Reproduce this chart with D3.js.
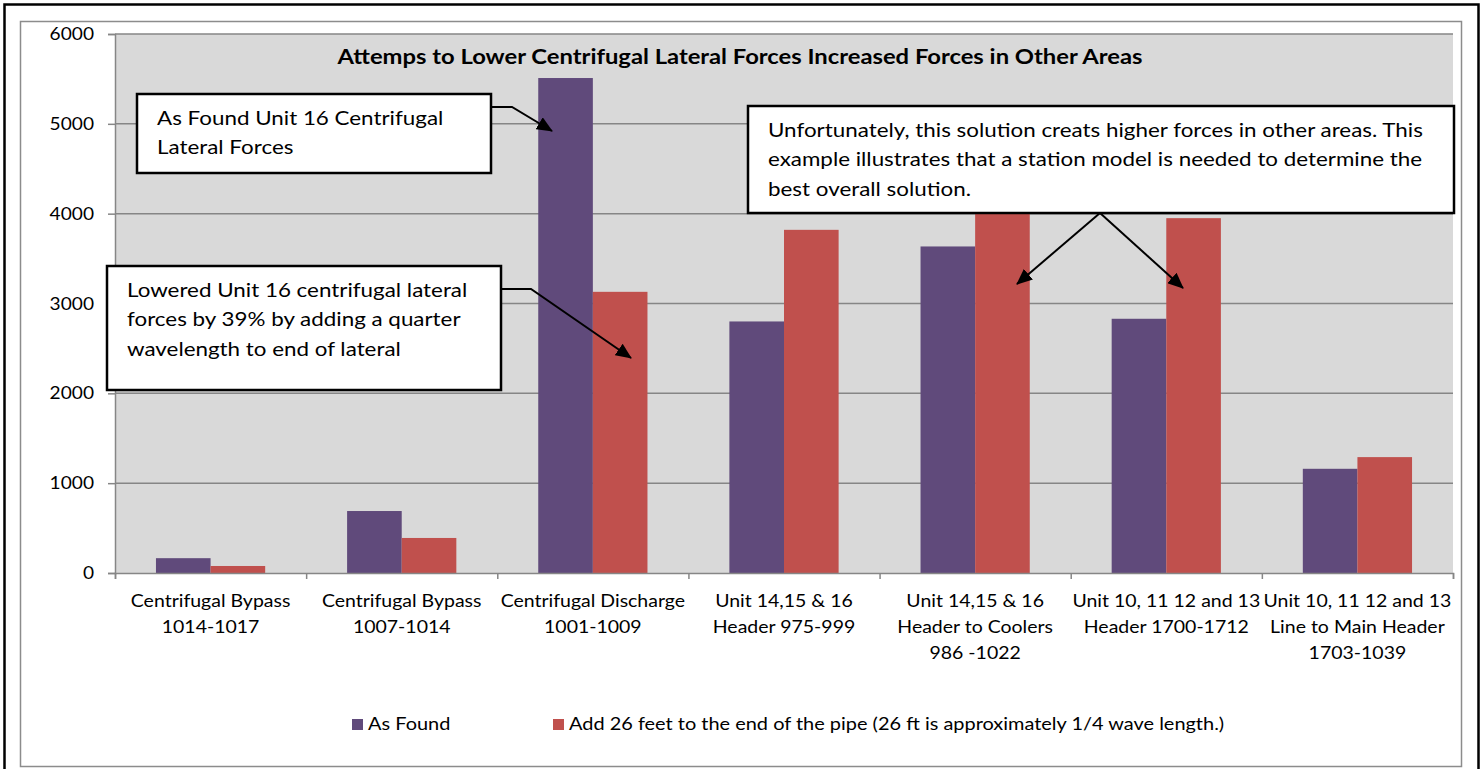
<!DOCTYPE html>
<html>
<head>
<meta charset="utf-8">
<script src="https://cdn.jsdelivr.net/npm/d3@7"></script>
<style>
  body { margin: 0; background: #fff; }
  svg { display: block; font-family: Lato, "Open Sans", sans-serif; }
</style>
</head>
<body>
<div id="chart"></div>
<script>
// chart data
const categories = [
  ["Centrifugal Bypass", "1014-1017"],
  ["Centrifugal Bypass", "1007-1014"],
  ["Centrifugal Discharge", "1001-1009"],
  ["Unit 14,15 & 16", "Header 975-999"],
  ["Unit 14,15 & 16", "Header to Coolers", "986 -1022"],
  ["Unit 10, 11 12 and 13", "Header 1700-1712"],
  ["Unit 10, 11 12 and 13", "Line to Main Header", "1703-1039"]
];
const seriesNames = ["As Found", "Add 26 feet to the end of the pipe (26 ft is approximately 1/4 wave length.)"];
const asFound = [165, 690, 5510, 2800, 3635, 2830, 1160];
const added26ft = [78, 390, 3130, 3820, 4020, 3950, 1290];
const yTicks = [0, 1000, 2000, 3000, 4000, 5000, 6000];
const colors = ["#604A7B", "#C0504D"];

const title = "Attemps to Lower Centrifugal Lateral Forces Increased Forces in Other Areas";

// call-out boxes and their arrows
const notes = [
  { x: 137, y: 94, w: 354, h: 79,
    lines: ["As Found Unit 16 Centrifugal", "Lateral Forces"],
    arrows: [[[491, 107], [512, 107], [552, 131]]] },
  { x: 107, y: 266, w: 394, h: 124,
    lines: ["Lowered Unit 16 centrifugal lateral", "forces by 39% by adding a quarter", "wavelength to end of lateral"],
    arrows: [[[501, 289], [531, 289], [631, 358]]] },
  { x: 748, y: 106, w: 706, h: 107,
    lines: ["Unfortunately, this solution creats higher forces in other areas. This",
            "example illustrates that a station model is needed to determine the",
            "best overall solution."],
    arrows: [[[1100, 213], [1017, 284]], [[1100, 213], [1183, 288]]] }
];

const width = 1483, height = 769;
const plot = { left: 115, right: 1453, top: 34, bottom: 573 };
// the original text is set a bit wide, so labels get stretched sideways
const sx = 1.16;
const stretch = (x, y) => `translate(${x},${y}) scale(${sx},1)`;

const svg = d3.select("#chart").append("svg")
  .attr("width", width)
  .attr("height", height);

svg.append("defs").append("marker")
  .attr("id", "arrow")
  .attr("markerUnits", "userSpaceOnUse")
  .attr("markerWidth", 16).attr("markerHeight", 14)
  .attr("refX", 15).attr("refY", 7)
  .attr("orient", "auto")
  .append("path")
  .attr("d", "M0,0 L16,7 L0,14 Z")
  .attr("fill", "#000");

// outer frames
svg.append("rect")
  .attr("x", 4.5).attr("y", 4.5)
  .attr("width", 1474).attr("height", 780)
  .attr("fill", "none").attr("stroke", "#000").attr("stroke-width", 2.5);
svg.append("rect")
  .attr("x", 20.5).attr("y", 21.5)
  .attr("width", 1441).attr("height", 745)
  .attr("fill", "#fff").attr("stroke", "#8c8c8c").attr("stroke-width", 1.5);

// scales
const x0 = d3.scaleBand()
  .domain(d3.range(categories.length))
  .range([plot.left, plot.right])
  .padding(0);
const x1 = d3.scaleBand()
  .domain([0, 1])
  .range([0, x0.bandwidth()])
  .paddingInner(0)
  .paddingOuter(0.75);
const y = d3.scaleLinear()
  .domain([0, 6000])
  .range([plot.bottom, plot.top]);

// plot background
svg.append("rect")
  .attr("x", plot.left).attr("y", plot.top)
  .attr("width", plot.right - plot.left).attr("height", plot.bottom - plot.top)
  .attr("fill", "#D9D9D9");

// grid lines
svg.append("g")
  .selectAll("line")
  .data(yTicks.filter(d => d > 0))
  .join("line")
  .attr("x1", plot.left).attr("x2", plot.right)
  .attr("y1", d => y(d)).attr("y2", d => y(d))
  .attr("stroke", "#868686").attr("stroke-width", 1.5);

// bars
const rows = categories.map((c, i) => [asFound[i], added26ft[i]]);
svg.append("g")
  .selectAll("g")
  .data(rows)
  .join("g")
  .attr("transform", (d, i) => `translate(${x0(i)},0)`)
  .selectAll("rect")
  .data(d => d.map((v, s) => ({ v, s })))
  .join("rect")
  .attr("x", d => x1(d.s))
  .attr("width", x1.bandwidth())
  .attr("y", d => y(d.v))
  .attr("height", d => y(0) - y(d.v))
  .attr("fill", d => colors[d.s]);

// y axis
const yAxis = svg.append("g")
  .attr("transform", `translate(${plot.left},0)`)
  .call(d3.axisLeft(y).tickValues(yTicks).tickSize(7).tickFormat(""));
yAxis.select(".domain").attr("stroke", "#868686").attr("stroke-width", 1.5);
yAxis.selectAll(".tick line").attr("stroke", "#868686").attr("stroke-width", 1.5);

svg.append("g")
  .selectAll("text")
  .data(yTicks)
  .join("text")
  .attr("transform", d => stretch(94, y(d) + 6))
  .attr("text-anchor", "end")
  .attr("font-size", 16.5)
  .text(d => d);

// x axis
const xAxis = svg.append("g")
  .attr("transform", `translate(0,${plot.bottom})`)
  .call(d3.axisBottom(d3.scaleLinear().domain([0, categories.length]).range([plot.left, plot.right]))
    .tickValues(d3.range(categories.length + 1)).tickSize(6).tickFormat(""));
xAxis.select(".domain").attr("stroke", "#868686").attr("stroke-width", 1.5);
xAxis.selectAll(".tick line").attr("stroke", "#868686").attr("stroke-width", 1.5);

svg.append("g")
  .selectAll("text")
  .data(categories)
  .join("text")
  .attr("transform", (d, i) => stretch(x0(i) + x0.bandwidth() / 2, 607))
  .attr("text-anchor", "middle")
  .attr("font-size", 16.8)
  .attr("fill", "#000")
  .selectAll("tspan")
  .data(d => d)
  .join("tspan")
  .attr("x", 0)
  .attr("y", (d, i) => i * 26)
  .text(d => d);

// title
svg.append("text")
  .attr("transform", stretch(740, 64))
  .attr("text-anchor", "middle")
  .attr("font-size", 20.5).attr("font-weight", "bold")
  .text(title);

// legend
const legendX = [352, 553];
const legend = svg.append("g")
  .selectAll("g")
  .data(seriesNames)
  .join("g")
  .attr("transform", (d, i) => `translate(${legendX[i]},719)`);
legend.append("rect")
  .attr("width", 11).attr("height", 11)
  .attr("fill", (d, i) => colors[i]);
legend.append("text")
  .attr("transform", stretch(16, 11))
  .attr("font-size", 17.2)
  .text(d => d);

// annotations
const ann = svg.append("g");
notes.forEach(n => {
  n.arrows.forEach(pts => {
    ann.append("path")
      .attr("d", d3.line()(pts))
      .attr("fill", "none")
      .attr("stroke", "#000")
      .attr("stroke-width", 2)
      .attr("marker-end", "url(#arrow)");
  });
  ann.append("rect")
    .attr("x", n.x).attr("y", n.y)
    .attr("width", n.w).attr("height", n.h)
    .attr("fill", "#fff").attr("stroke", "#000").attr("stroke-width", 2.5);
  ann.append("text")
    .attr("transform", stretch(n.x + 20, n.y + 31))
    .attr("font-size", 19.3)
    .selectAll("tspan")
    .data(n.lines)
    .join("tspan")
    .attr("x", 0)
    .attr("y", (d, i) => i * 29.5)
    .text(d => d);
});
</script>
</body>
</html>
